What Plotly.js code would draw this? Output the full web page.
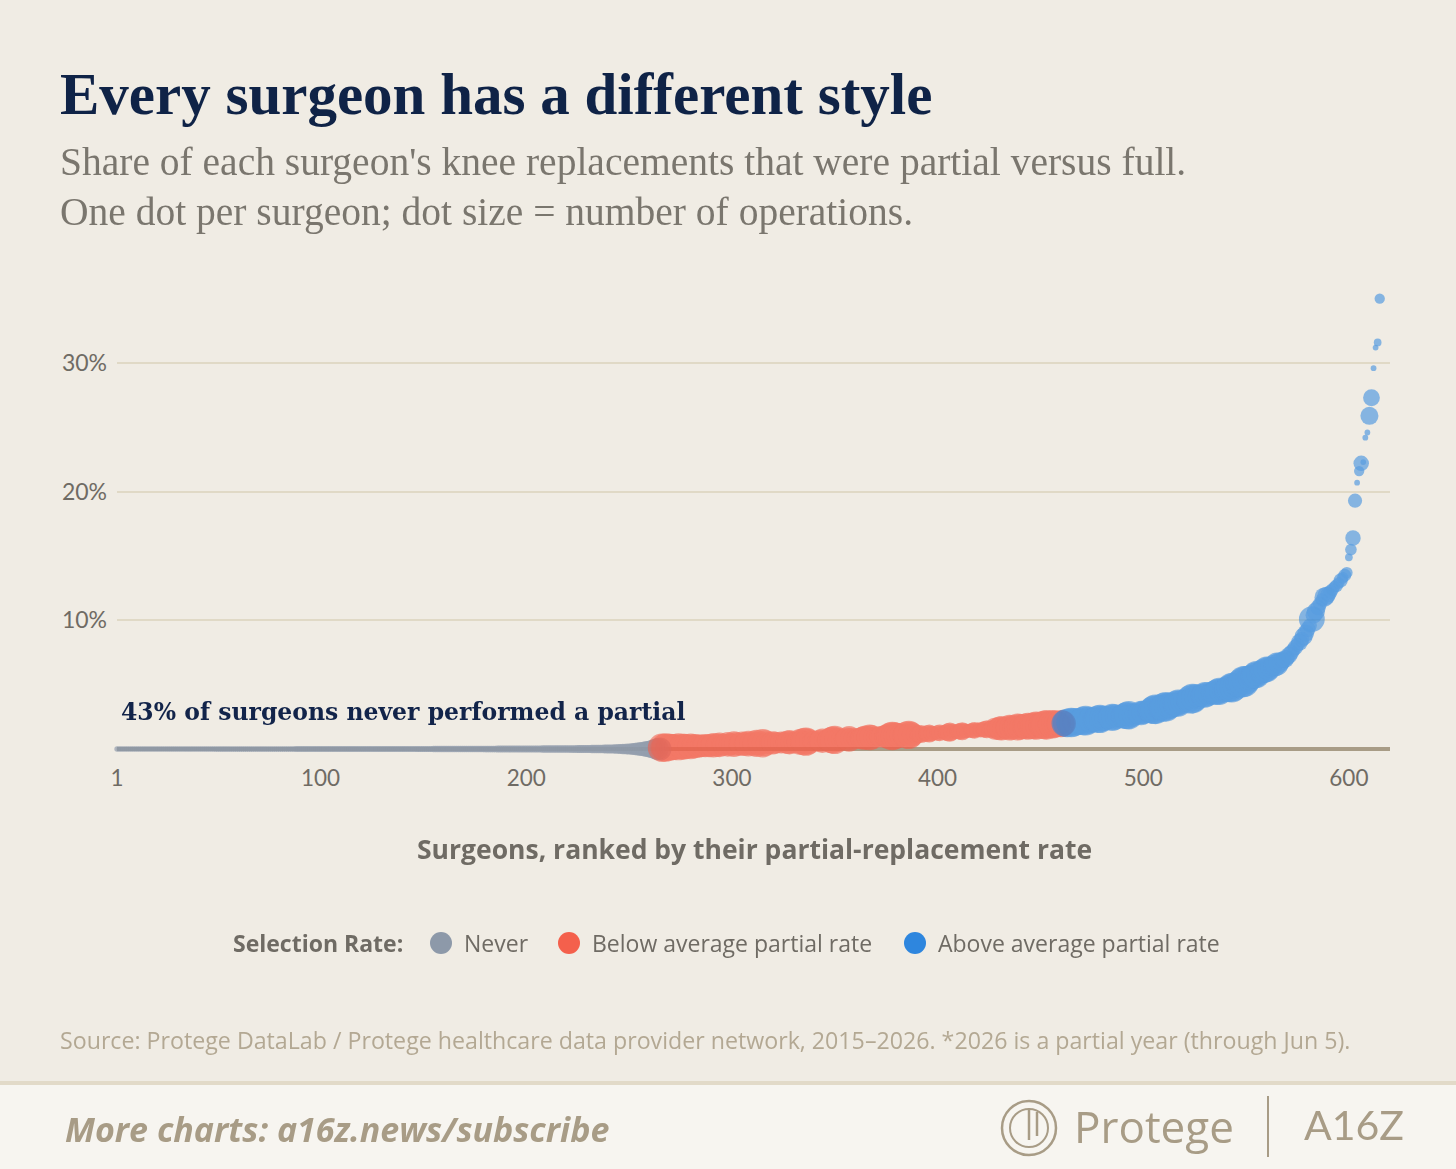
<!DOCTYPE html>
<html>
<head>
<meta charset="utf-8">
<script src="https://cdn.plot.ly/plotly-3.0.1.min.js"></script>
<style>
  html, body { margin: 0; padding: 0; background: #f0ece4; }
  #chart { width: 1456px; height: 1169px; }
</style>
</head>
<body>
<div id="chart"></div>
<script>
// ── Knee replacements: partial-rate per surgeon, ranked ─────────────────

// Never performed a partial: rate is 0, operations per surgeon (sorted)
const grayRate = [
  0,0,0,0,0,0,0,0,0,0,0,0,0,0,0,0,0,0,0,0, 0,0,0,0,0,0,0,0,0,0,0,0,0,0,0,0,0,0,0,0,
  0,0,0,0,0,0,0,0,0,0,0,0,0,0,0,0,0,0,0,0, 0,0,0,0,0,0,0,0,0,0,0,0,0,0,0,0,0,0,0,0,
  0,0,0,0,0,0,0,0,0,0,0,0,0,0,0,0,0,0,0,0, 0,0,0,0,0,0,0,0,0,0,0,0,0,0,0,0,0,0,0,0,
  0,0,0,0,0,0,0,0,0,0,0,0,0,0,0,0,0,0,0,0, 0,0,0,0,0,0,0,0,0,0,0,0,0,0,0,0,0,0,0,0,
  0,0,0,0,0,0,0,0,0,0,0,0,0,0,0,0,0,0,0,0, 0,0,0,0,0,0,0,0,0,0,0,0,0,0,0,0,0,0,0,0,
  0,0,0,0,0,0,0,0,0,0,0,0,0,0,0,0,0,0,0,0, 0,0,0,0,0,0,0,0,0,0,0,0,0,0,0,0,0,0,0,0,
  0,0,0,0,0,0,0,0,0,0,0,0,0,0,0,0,0,0,0,0, 0,0,0,0,0
];
const grayOps = [
  17,17,17,17,17,17,17,17,17,17,17,17,17,17,17,17,17,17,17,17,
  17,17,17,17,17,17,18,18,18,18,18,18,18,18,18,18,18,18,18,18,
  18,18,18,18,18,18,18,18,19,19,19,19,19,19,19,19,19,19,19,19,
  19,19,19,19,19,19,19,19,19,19,19,19,19,19,19,19,19,19,19,19,
  19,19,19,19,19,19,19,20,20,20,20,20,20,20,20,20,20,20,20,20,
  20,20,20,20,20,20,20,21,21,21,21,21,21,21,21,21,21,21,21,21,
  21,21,21,21,22,22,22,22,22,22,22,22,22,22,22,22,22,22,22,22,
  22,22,22,22,22,22,23,23,23,23,23,23,23,23,24,24,24,24,24,24,
  24,24,24,24,24,24,25,25,25,25,25,25,26,26,26,26,26,26,26,27,
  27,27,27,27,27,28,28,28,28,28,28,29,29,29,29,29,30,30,30,30,
  30,30,30,31,31,31,31,32,32,32,32,33,33,33,34,34,34,35,35,35,
  35,36,36,36,37,37,38,38,39,39,40,41,42,42,43,44,45,46,47,48,
  49,51,53,55,58,61,64,67,71,75,80,86,92,99,108,118,130,143,158,176,
  198,223,252,285,320
];

// Below average partial rate (%), and operations
const redRate = [
  0.1,0.11,0.12,0.13,0.14,0.15,0.16,0.16,0.17,0.18,0.18,0.19,0.2,0.2,0.21,0.22,0.22,0.23,0.24,0.24,
  0.25,0.26,0.26,0.27,0.28,0.29,0.3,0.31,0.32,0.33,0.34,0.35,0.36,0.37,0.38,0.38,0.39,0.39,0.4,0.4,
  0.41,0.41,0.42,0.42,0.43,0.43,0.44,0.44,0.45,0.45,0.46,0.46,0.47,0.48,0.48,0.49,0.49,0.5,0.5,0.51,
  0.52,0.52,0.53,0.53,0.54,0.54,0.55,0.55,0.56,0.57,0.57,0.58,0.59,0.6,0.61,0.62,0.63,0.64,0.65,0.66,
  0.67,0.68,0.69,0.7,0.71,0.72,0.73,0.74,0.75,0.76,0.77,0.78,0.79,0.8,0.81,0.82,0.83,0.84,0.86,0.88,
  0.89,0.9,0.91,0.92,0.93,0.94,0.95,0.96,0.97,0.98,0.99,1.0,1.01,1.02,1.04,1.05,1.06,1.07,1.08,1.09,
  1.1,1.11,1.12,1.13,1.14,1.15,1.16,1.17,1.18,1.19,1.2,1.21,1.22,1.23,1.25,1.26,1.27,1.28,1.29,1.3,
  1.31,1.32,1.33,1.35,1.36,1.37,1.38,1.39,1.4,1.42,1.43,1.44,1.45,1.47,1.48,1.49,1.5,1.52,1.53,1.54,
  1.55,1.56,1.57,1.58,1.6,1.61,1.62,1.63,1.65,1.66,1.67,1.68,1.7,1.71,1.72,1.73,1.75,1.76,1.77,1.78,
  1.8,1.81,1.82,1.83,1.85,1.86,1.87,1.88,1.9,1.91,1.92,1.93,1.95,1.96,1.97,1.98
];
const redOps = [
  484,441,484,400,441,400,400,361,441,324,400,400,361,324,400,324,361,289,324,289,
  289,324,256,324,289,361,225,324,361,256,289,225,361,289,256,400,324,225,289,361,
  256,324,400,289,225,361,441,324,256,484,400,289,225,256,324,289,225,196,289,256,
  225,324,361,289,225,196,256,400,324,441,484,400,289,225,256,196,225,289,361,256,
  225,289,400,441,484,361,289,225,196,256,324,400,289,225,196,256,225,289,324,361,
  289,400,361,256,225,196,256,289,225,324,361,441,484,441,400,361,289,256,324,441,
  484,400,289,196,144,169,196,144,121,169,196,144,121,100,144,169,121,100,144,196,
  225,169,121,100,144,169,196,144,121,100,121,144,169,121,100,144,121,169,196,144,
  169,196,289,256,324,361,289,256,324,400,361,289,324,441,400,361,324,400,441,361,
  400,441,484,400,361,441,484,529,441,400,484,441,400,361,441,400
];

// Above average partial rate (%), and operations
const blueRate = [
  2.0,2.02,2.04,2.06,2.08,2.1,2.12,2.14,2.16,2.18,2.2,2.22,2.24,2.26,2.28,2.3,2.32,2.34,2.36,2.38,
  2.4,2.42,2.44,2.46,2.48,2.5,2.52,2.54,2.56,2.58,2.6,2.62,2.64,2.67,2.7,2.73,2.76,2.8,2.84,2.88,
  2.92,2.96,3.0,3.04,3.08,3.12,3.16,3.2,3.24,3.28,3.32,3.37,3.42,3.47,3.52,3.57,3.62,3.67,3.72,3.77,
  3.8,3.86,3.92,3.98,4.04,4.08,4.12,4.16,4.2,4.24,4.28,4.32,4.36,4.4,4.44,4.48,4.52,4.56,4.6,4.65,
  4.7,4.76,4.83,4.9,4.98,5.06,5.15,5.25,5.35,5.45,5.55,5.62,5.7,5.78,5.86,5.94,6.02,6.1,6.18,6.26,
  6.34,6.42,6.5,6.6,6.7,6.8,6.9,7.0,7.1,7.3,7.5,7.7,7.9,8.1,8.3,8.5,8.75,9.0,9.3,9.6,
  10.1,10.4,10.7,11.0,11.3,11.6,11.8,11.9,12.0,12.2,12.4,12.6,12.7,12.9,13.1,13.3,13.5,13.7,
  14.9,15.5,16.4,19.3,20.7,21.6,22.2,22.3,24.2,24.6,25.9,27.3,29.6,31.2,31.6,35.0
];
const blueOps = [
  441,484,400,529,484,400,441,361,400,484,529,441,361,400,324,361,441,484,400,361,
  324,289,361,441,400,324,289,256,324,400,441,484,361,289,256,225,289,361,324,289,
  256,324,400,484,529,441,361,400,484,529,441,400,361,324,400,441,361,324,289,256,
  361,484,529,441,361,289,256,324,400,361,289,256,324,361,400,441,361,289,324,400,
  441,529,484,400,361,441,529,576,484,400,361,324,400,441,361,289,324,361,400,324,
  256,225,289,324,256,196,169,196,144,169,144,121,144,121,169,144,196,169,144,121,
  400,169,196,144,121,100,225,196,144,121,100,81,100,81,121,81,100,81,
  36,81,144,121,20,64,144,20,20,20,196,169,20,20,36,64
];

const xTicks = [1, 100, 200, 300, 400, 500, 600];
const yTicks = [10, 20, 30];
const groupNames = ['Never', 'Below average partial rate', 'Above average partial rate'];

// ── page geometry ───────────────────────────────────────────────────────
const W = 1456, H = 1169;
const M = { l: 117, r: 66, t: 279, b: 420 };
const PW = W - M.l - M.r, PH = H - M.t - M.b;
const fx = x => (x - M.l) / PW;          // page px -> paper x
const fy = y => (H - M.b - y) / PH;      // page px -> paper y

const C = {
    bg: '#f0ece4', navy: '#0f2347', muted: '#6f6b64', tan: '#a89c86',
    gray: '#8d99a9', red: '#f4604c', blue: '#2e86de',
    serif: '"Liberation Serif", serif',
    sans: '"Open Sans", Lato, sans-serif',
    tick: 'Lato, "Open Sans", sans-serif',
};
const groupColors = [C.gray, C.red, C.blue];

const ranks = (n, start) => Array.from({ length: n }, (_, i) => start + i);
const nGray = grayOps.length, nRed = redOps.length;

function dots(name, rate, ops, start, color, opacity) {
    return {
        type: 'scatter', mode: 'markers', name, showlegend: false,
        x: ranks(rate.length, start), y: rate,
        cliponaxis: false, opacity,
        marker: { color, size: ops, sizemode: 'area', sizeref: 1.2, line: { width: 0 } },
        hovertemplate: 'Rank %{x}<br>%{y:.1f}%<extra></extra>',
    };
}

const traces = [
    dots(groupNames[0], grayRate, grayOps, 1, C.gray, 0.92),
    dots(groupNames[1], redRate, redOps, nGray + 1, C.red, 0.82),
    dots(groupNames[2], blueRate, blueOps, nGray + nRed + 1, C.blue, 0.78),
];

const txt = (text, x, y, font, extra) => Object.assign({
    text, xref: 'paper', yref: 'paper', x: fx(x), y: fy(y),
    xanchor: 'left', yanchor: 'middle', showarrow: false, font,
}, extra || {});

const legendFont = { family: C.sans, size: 23, color: C.muted };
const legendX = [441, 569, 915];   // swatch centres

const annotations = [
    txt('Every surgeon has a different style', 58, 94,
        { family: C.serif, size: 59, color: C.navy, weight: 700 }),
    txt("Share of each surgeon's knee replacements that were partial versus full.", 58, 162,
        { family: C.serif, size: 39.5, color: '#7a766e' }),
    txt('One dot per surgeon; dot size = number of operations.', 58, 212,
        { family: C.serif, size: 39.5, color: '#7a766e' }),
    txt('43% of surgeons never performed a partial', 119, 712,
        { family: '"DejaVu Serif", serif', size: 23.5, color: '#12244a', weight: 700 }),
    txt('Surgeons, ranked by their partial-replacement rate', 754, 849,
        { family: C.sans, size: 26.5, color: C.muted, weight: 700 }, { xanchor: 'center' }),
    txt('Selection Rate:', 231, 943, Object.assign({}, legendFont, { weight: 700 })),
    ...groupNames.map((n, i) => txt(n, legendX[i] + 21, 943, legendFont)),
    txt('Source: Protege DataLab / Protege healthcare data provider network, 2015–2026. *2026 is a partial year (through Jun 5).',
        58, 1040, { family: C.sans, size: 23.2, color: '#b3a893' }),
    txt('More charts: a16z.news/subscribe', 63, 1129,
        { family: C.sans, size: 34, color: C.tan, weight: 700, style: 'italic' }),
    txt('Protege', 1072, 1126, { family: C.sans, size: 44, color: C.tan }),
    txt('A16Z', 1302, 1124, { family: C.tick, size: 41, color: C.tan }),
];

const pshape = (type, x0, y0, x1, y1, style) => Object.assign({
    type, xref: 'paper', yref: 'paper', layer: 'below',
    x0: fx(x0), x1: fx(x1), y0: fy(y0), y1: fy(y1),
}, style);

const shapes = [
    // footer band
    pshape('rect', 0, 1082, W, H, { fillcolor: '#f7f5f0', line: { width: 0 } }),
    pshape('line', 0, 1083, W, 1083, { line: { color: '#e2dac8', width: 4 } }),
    // Protege mark
    pshape('circle', 1002, 1101, 1056, 1155, { line: { color: C.tan, width: 2.5 }, layer: 'above' }),
    pshape('circle', 1010, 1109, 1048, 1147, { line: { color: C.tan, width: 2 }, layer: 'above' }),
    pshape('line', 1029, 1109, 1029, 1140, { line: { color: C.tan, width: 2.5 }, layer: 'above' }),
    pshape('line', 1037, 1112, 1037, 1136, { line: { color: C.tan, width: 2.5 }, layer: 'above' }),
    // separator
    pshape('line', 1268, 1096, 1268, 1157, { line: { color: C.tan, width: 2 }, layer: 'above' }),
    // legend swatches
    ...legendX.map((cx, i) => pshape('circle', cx - 11, 932, cx + 11, 954,
        { fillcolor: groupColors[i], line: { width: 0 }, layer: 'above' })),
];

const layout = {
    width: W, height: H,
    margin: M,
    paper_bgcolor: C.bg, plot_bgcolor: C.bg,
    showlegend: false,
    xaxis: {
        range: [1, 620], tickvals: xTicks, ticktext: xTicks.map(String),
        showgrid: false, zeroline: false, showline: false, ticks: '',
        ticklabelstandoff: 13,
        tickfont: { family: C.tick, size: 22.5, color: C.muted },
        fixedrange: true,
    },
    yaxis: {
        range: [0, 36.53], tickvals: yTicks, ticktext: yTicks.map(v => v + '%'),
        showgrid: true, gridcolor: '#e0d9c6', gridwidth: 2,
        zeroline: true, zerolinecolor: C.tan, zerolinewidth: 4,
        showline: false, ticks: '', ticklabelstandoff: 9,
        tickfont: { family: C.tick, size: 23, color: C.muted },
        fixedrange: true,
    },
    annotations, shapes,
};

Plotly.newPlot('chart', traces, layout, { displayModeBar: false, responsive: false });
</script>
</body>
</html>
